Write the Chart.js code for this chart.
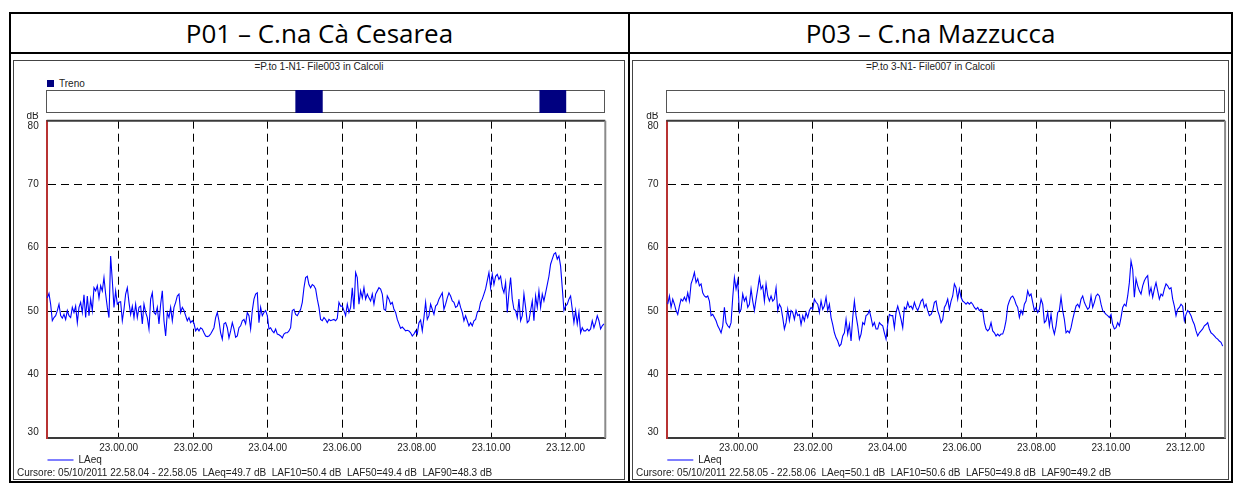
<!DOCTYPE html>
<html>
<head>
<meta charset="utf-8">
<script src="https://cdn.jsdelivr.net/npm/chart.js@4.4.0/dist/chart.umd.min.js"></script>
<style>
    body { margin: 0; width: 1236px; height: 484px; position: relative; overflow: hidden; background: #fff;
           font-family: "Liberation Sans", Arial, sans-serif; color: #222; }
    .abs { position: absolute; box-sizing: border-box; }
    .head { font-family: "Open Sans", sans-serif; font-size: 26px; text-align: center; line-height: 38px; color: #000; }
    .sub { font-size: 10px; text-align: center; line-height: 12px; }
    canvas { position: absolute; }
</style>
</head>
<body>

<div class="abs" style="left:9px;top:12px;width:1224px;height:471px;border:2px solid #000"></div>
<div class="abs" style="left:9px;top:52px;width:1224px;height:2px;background:#000"></div>
<div class="abs" style="left:628px;top:12px;width:2px;height:471px;background:#000"></div>

<div class="abs head" style="left:11px;top:14px;width:617px;height:38px">P01 – C.na Cà Cesarea</div>
<div class="abs head" style="left:630px;top:14px;width:601px;height:38px">P03 – C.na Mazzucca</div>

<div class="abs" style="left:13px;top:60px;width:612px;height:420px;border:1px solid #444"></div>
<div class="abs" style="left:632px;top:60px;width:597px;height:420px;border:1px solid #444"></div>

<div class="abs sub" style="left:13px;top:61px;width:612px">=P.to 1-N1- File003 in Calcoli</div>
<div class="abs sub" style="left:632px;top:61px;width:597px">=P.to 3-N1- File007 in Calcoli</div>

<div class="abs" style="left:47px;top:80px;width:7px;height:7px;background:#000080"></div>
<div class="abs" style="left:59px;top:79px;font-size:10px;line-height:10px">Treno</div>

<canvas id="stripP01" width="559" height="23" style="left:46px;top:90px"></canvas>
<canvas id="stripP03" width="559" height="23" style="left:666px;top:90px"></canvas>
<canvas id="chartP01" width="611" height="367" style="left:14px;top:112px"></canvas>
<canvas id="chartP03" width="595" height="367" style="left:633px;top:112px"></canvas>

<script>
// time axis in seconds from 23.00.00 (22.58.04 .. 23.13.04)
const T_START = -116;
const T_END = 784;
const SAMPLE_S = 2.685;

const tickSeconds = [0, 120, 240, 360, 480, 600, 720];
const tickLabels = ['23.00.00', '23.02.00', '23.04.00', '23.06.00', '23.08.00', '23.10.00', '23.12.00'];
const dbTicks = [30, 40, 50, 60, 70, 80];

const p01Start = -115;
const p01Laeq = [
    52.1, 52.8, 51.1, 48.5, 49.0, 49.3, 50.1, 51.1, 49.3, 48.9,
    49.5, 48.7, 50.1, 49.3, 49.0, 50.6, 49.8, 50.8, 48.2, 50.6,
    51.4, 49.8, 52.6, 49.0, 52.4, 49.3, 51.9, 50.1, 53.7, 53.2,
    54.0, 52.1, 54.0, 53.2, 55.3, 52.7, 50.6, 49.0, 58.7, 54.8,
    50.6, 53.2, 51.1, 51.4, 51.5, 48.5, 50.3, 52.7, 53.7, 51.4,
    49.5, 50.8, 49.0, 51.1, 49.0, 50.6, 50.8, 48.0, 51.1, 49.8,
    49.0, 47.2, 51.9, 52.9, 49.8, 49.5, 50.6, 48.0, 51.1, 53.2,
    48.5, 46.1, 49.8, 49.0, 50.6, 48.5, 50.6, 51.4, 52.4, 52.7,
    49.8, 50.6, 50.1, 49.3, 48.5, 49.0, 48.2, 48.5, 48.1, 46.9,
    47.3, 46.9, 47.4, 47.2, 46.6, 46.1, 46.0, 46.1, 46.4, 46.9,
    47.4, 49.0, 49.8, 48.5, 46.6, 45.6, 48.0, 48.2, 47.4, 45.8,
    46.9, 48.2, 47.2, 45.9, 46.1, 47.4, 47.7, 48.5, 48.7, 48.0,
    49.8, 49.3, 47.2, 50.1, 51.9, 52.7, 52.9, 48.2, 50.6, 49.3,
    49.8, 50.1, 49.3, 47.2, 47.4, 46.9, 46.6, 47.2, 46.4, 46.3,
    46.1, 45.8, 46.4, 46.6, 46.6, 46.9, 47.4, 50.1, 50.3, 49.5,
    49.3, 49.8, 50.3, 51.4, 53.7, 55.3, 55.5, 54.2, 53.7, 54.2,
    54.0, 53.5, 51.9, 50.6, 48.7, 48.5,
    49.0, 48.7, 48.2, 48.7, 48.5, 48.6, 48.7, 48.5, 48.9, 51.4,
    50.8, 50.8, 50.1, 49.3, 51.1, 49.8, 50.6, 53.7, 50.3, 56.1,
    55.3, 51.1, 53.2, 52.1, 53.7, 51.9, 52.7, 52.1, 51.6, 52.7,
    51.1, 52.7, 53.2, 53.7, 53.5, 52.7, 50.3, 50.1, 52.4, 51.9,
    51.1, 51.4, 50.3, 49.8, 48.7, 48.0, 47.3, 47.5, 47.2, 46.9,
    47.0, 46.9, 46.6, 46.1, 46.4, 46.9, 46.4, 48.2, 48.6, 46.9,
    49.0, 51.4, 48.7, 49.3, 51.1, 50.3, 49.5, 50.8, 51.1, 51.9,
    52.4, 52.9, 50.3, 51.1, 52.1, 52.9, 52.4, 51.6, 51.4, 50.6,
    50.8, 51.6, 50.6, 49.8, 48.5, 49.3, 48.5, 47.7, 48.2, 47.7,
    48.5, 48.7, 49.8, 50.1, 51.4, 51.9, 52.7, 53.5, 54.8, 56.1,
    53.7, 55.8, 54.2, 55.5, 55.8, 55.0, 55.5, 53.7, 52.9, 54.5,
    49.8, 52.9, 55.3, 51.9, 50.3, 50.1, 49.0, 51.9, 48.5, 49.3,
    52.7, 50.6, 48.2, 48.5, 50.1, 51.6, 48.5, 52.4, 50.6, 53.2,
    50.6, 52.7, 51.6, 52.9, 54.2, 55.5, 57.4, 58.2, 59.0, 59.2,
    58.2, 58.7, 57.1, 53.7, 50.1, 50.8, 51.1, 51.9, 52.4, 50.3,
    48.2, 50.1, 48.0, 49.8, 46.6, 47.4, 46.9, 46.9, 47.2, 46.9,
    47.2, 48.5, 47.4, 48.2, 49.3, 48.5, 47.2, 47.7, 48.0
];

const p03Start = -114;
const p03Laeq = [
    51.1, 52.4, 50.6, 51.9, 51.1, 50.1, 49.5, 50.8, 51.9, 51.6,
    52.2, 51.6, 52.9, 51.6, 54.3, 55.1, 56.1, 54.5, 55.1, 54.0,
    54.3, 52.9, 52.4, 52.2, 52.4, 51.6, 49.3, 49.5, 49.0, 48.5,
    47.7, 47.2, 46.6, 47.7, 50.6, 48.2, 47.7, 47.4, 48.2, 52.2,
    55.3, 53.5, 54.8, 49.8, 50.3, 52.7, 51.6, 52.2, 50.6, 51.1,
    53.5, 51.6, 50.1, 51.9, 53.5, 55.3, 53.5, 54.0, 51.6, 54.3,
    52.4, 51.6, 52.4, 51.6, 51.9, 53.7, 50.1, 51.1, 50.6, 49.0,
    47.2, 48.2, 50.3, 48.5, 50.1, 49.8, 48.7, 50.1, 49.3, 49.5,
    47.9, 49.3, 48.5, 49.8, 49.0, 50.1, 50.6, 50.3, 51.9, 51.4,
    51.1, 49.8, 51.6, 50.3, 50.8, 52.2, 50.1, 51.1, 49.0, 47.9,
    46.6, 45.8, 45.3, 44.5, 44.8, 46.1, 46.6, 48.7, 46.4, 47.9,
    45.3, 49.0, 51.6, 49.3, 47.7, 45.6, 46.4, 48.2, 47.9, 49.3,
    49.5, 50.1, 49.0, 47.7, 48.2, 47.2, 47.2, 48.2, 47.9, 47.7,
    46.6, 45.6, 47.9, 49.5, 49.3, 49.3, 47.4, 49.8, 50.8, 49.8,
    48.7, 47.4, 50.6, 50.3, 51.4, 50.6, 50.8, 50.3, 51.4, 50.6,
    50.1, 50.8, 51.6, 51.9, 50.6, 51.1, 50.1, 49.3, 49.5, 50.1,
    51.4, 51.6, 50.1, 49.3, 48.2,
    48.7, 50.6, 51.1, 51.9, 50.3, 51.6, 52.4, 54.3, 53.7, 51.9,
    53.5, 52.2, 51.6, 51.4, 51.1, 51.4, 51.1, 51.4, 51.1, 50.6,
    50.3, 50.6, 50.1, 50.3, 50.1, 48.2, 47.2, 46.9, 47.2, 48.2,
    46.9, 46.6, 46.1, 46.4, 46.1, 46.4, 46.4, 47.2, 48.5, 50.8,
    51.6, 52.2, 52.4, 51.9, 51.1, 50.6, 49.0, 50.1, 49.5, 51.1,
    51.6, 53.2, 52.4, 52.7, 51.4, 50.1, 50.6, 49.8, 50.3, 51.9,
    51.1, 48.2, 48.5, 49.8, 47.7, 49.5, 47.4, 46.4, 47.7, 49.8,
    50.1, 52.2, 50.1, 48.7, 46.6, 46.9, 46.6, 47.4, 48.7, 49.8,
    50.8, 51.1, 50.6, 51.9, 52.4, 51.4, 50.8, 50.3, 50.6, 52.4,
    50.6, 51.4, 52.4, 52.7, 52.4, 51.1, 50.1, 49.8, 49.5, 49.3,
    49.0, 49.5, 47.9, 47.2, 47.4, 48.2, 47.7, 49.0, 50.6, 51.1,
    50.8, 52.4, 54.5, 57.9, 56.6, 52.2, 55.1, 54.0, 53.2, 52.7,
    54.0, 54.8, 55.3, 55.6, 52.7, 53.7, 52.2, 53.5, 54.5, 53.2,
    51.9, 52.7, 52.4, 53.5, 54.3, 54.0, 53.5, 53.7, 51.9, 50.8,
    49.3, 50.3, 50.6, 51.1, 50.8, 48.5, 49.5, 50.1, 49.8, 49.3,
    48.5, 47.9, 46.9, 46.1, 46.6, 46.9, 47.2, 47.7, 47.9, 48.2,
    47.2, 46.6, 46.4, 46.1, 45.8, 45.6, 45.3, 45.1, 44.5
];

// train passages, [from, to] in seconds from 23.00.00
const p01Treno = [[286, 329], [679, 721]];
const p03Treno = [];

const p01Cursor = 'Cursore: 05/10/2011 22.58.04 - 22.58.05  LAeq=49.7 dB  LAF10=50.4 dB  LAF50=49.4 dB  LAF90=48.3 dB';
const p03Cursor = 'Cursore: 05/10/2011 22.58.05 - 22.58.06  LAeq=50.1 dB  LAF10=50.6 dB  LAF50=49.8 dB  LAF90=49.2 dB';

const FONT = '"Liberation Sans", Arial, sans-serif';
Chart.defaults.font.family = FONT;

// box around the train strip
const stripFrame = {
    id: 'stripFrame',
    beforeDraw(chart) {
        const {ctx, chartArea: a} = chart;
        ctx.save();
        ctx.strokeStyle = '#555';
        ctx.lineWidth = 1;
        ctx.strokeRect(a.left + 0.5, a.top + 0.5, a.width - 1, a.height - 1);
        ctx.restore();
    }
};

// dB labels (kept inside the plot height), top/right frame
const axisText = {
    id: 'axisText',
    afterDraw(chart) {
        const {ctx, chartArea: a, scales: {y}} = chart;
        ctx.save();
        ctx.strokeStyle = '#3a3a3a';
        ctx.lineWidth = 2;
        ctx.beginPath();
        ctx.moveTo(a.left, a.top);
        ctx.lineTo(a.right, a.top);
        ctx.stroke();
        ctx.strokeStyle = '#8a8a8a';
        ctx.beginPath();
        ctx.moveTo(a.right, a.top);
        ctx.lineTo(a.right, a.bottom);
        ctx.stroke();

        ctx.font = '10px ' + FONT;
        ctx.fillStyle = '#222';
        ctx.textAlign = 'right';
        ctx.textBaseline = 'middle';
        dbTicks.forEach(v => {
            let py = y.getPixelForValue(v);
            py = Math.min(Math.max(py, a.top + 5.5), a.bottom - 5.5);
            ctx.fillText(String(v), a.left - 8, py);
        });
        ctx.fillText('dB', a.left - 8, a.top - 4);
        ctx.restore();
    }
};

function makeStrip(id, intervals) {
    new Chart(document.getElementById(id), {
        type: 'bar',
        data: {
            labels: ['Treno'],
            datasets: [{
                label: 'Treno',
                data: intervals.map(r => ({x: r, y: 'Treno'})),
                backgroundColor: '#000080',
                borderWidth: 0,
                barPercentage: 1,
                categoryPercentage: 1
            }]
        },
        options: {
            indexAxis: 'y',
            responsive: false,
            animation: false,
            events: [],
            layout: {padding: 0},
            plugins: {legend: {display: false}, tooltip: {enabled: false}},
            scales: {
                x: {type: 'linear', min: T_START, max: T_END, display: false},
                y: {type: 'category', display: false}
            }
        },
        plugins: [stripFrame]
    });
}

function makeMain(id, start, values, cursorText, yWidth, padRight) {
    const pts = values.map((v, i) => ({x: start + i * SAMPLE_S, y: v}));
    new Chart(document.getElementById(id), {
        type: 'line',
        data: {
            datasets: [{
                label: 'LAeq',
                data: pts,
                borderColor: '#0000ff',
                backgroundColor: '#0000ff',
                borderWidth: 1.1,
                pointRadius: 0,
                pointStyle: 'line',
                tension: 0,
                fill: false
            }]
        },
        options: {
            responsive: false,
            animation: false,
            events: [],
            layout: {padding: {top: 8.7, right: padRight, bottom: 0, left: 3}},
            scales: {
                x: {
                    type: 'linear',
                    min: T_START,
                    max: T_END,
                    afterBuildTicks: s => { s.ticks = tickSeconds.map(v => ({value: v})); },
                    afterFit: s => { s.height = 16; },
                    ticks: {
                        callback: (v, i) => tickLabels[i],
                        font: {size: 10},
                        color: '#222',
                        padding: 4,
                        maxRotation: 0,
                        autoSkip: false
                    },
                    grid: {color: '#000', lineWidth: 1, drawTicks: false},
                    border: {display: true, color: '#3a3a3a', width: 2, dash: [8, 5]}
                },
                y: {
                    min: 30,
                    max: 80,
                    ticks: {stepSize: 10, display: false},
                    afterFit: s => { s.width = yWidth; },
                    grid: {color: '#000', lineWidth: 1, drawTicks: false},
                    border: {display: true, color: '#b83232', width: 2, dash: [8, 5]}
                }
            },
            plugins: {
                legend: {
                    position: 'bottom',
                    align: 'start',
                    fullSize: false,
                    labels: {usePointStyle: true, pointStyleWidth: 26, padding: 0.8, font: {size: 10}, color: '#222'}
                },
                title: {
                    display: true,
                    text: cursorText,
                    position: 'bottom',
                    align: 'start',
                    padding: {top: -8, bottom: 0},
                    font: {size: 10, weight: 'normal'},
                    color: '#222'
                },
                tooltip: {enabled: false}
            }
        },
        plugins: [axisText]
    });
}

makeStrip('stripP01', p01Treno);
makeStrip('stripP03', p03Treno);
makeMain('chartP01', p01Start, p01Laeq, p01Cursor, 29.7, 19.7);
makeMain('chartP03', p03Start, p03Laeq, p03Cursor, 30.5, 2.9);
</script>
</body>
</html>
